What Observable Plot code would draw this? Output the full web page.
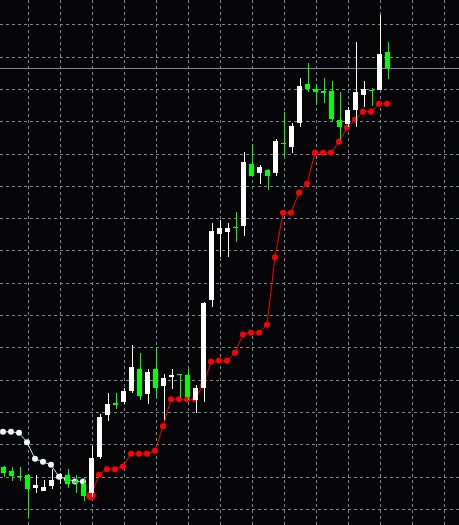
<!DOCTYPE html>
<html><head><meta charset="utf-8">
<script src="https://cdn.jsdelivr.net/npm/d3@7"></script>
<script src="https://cdn.jsdelivr.net/npm/@observablehq/plot@0.6"></script>
<style>html,body{margin:0;padding:0;background:#050508;overflow:hidden}</style>
</head><body><div id="chart"></div>
<script>
// Candles (bar index 0..48), prices in arbitrary chart units
const opens  = [113.08,111.75,110.11,110.51,106.48,105.65,107.10,109.18,110.51,108.43,107.72,104.84,116.17,129.17,132.88,133.19,136.51,143.31,135.67,143.31,138.15,140.75,141.77,141.46,133.81,137.53,164.67,185.19,185.81,187.26,187.67,206.76,204.07,204.90,204.13,213.26,212.12,219.30,231.52,229.97,229.14,229.36,220.38,219.14,223.47,228.21,229.57,229.66,241.43];
const highs  = [113.39,113.08,112.98,110.66,110.42,108.87,112.36,111.22,112.36,110.51,109.89,119.58,129.39,135.79,135.79,137.34,150.74,148.36,143.31,149.72,141.77,143.31,141.86,143.31,138.36,163.90,188.59,189.43,188.50,191.91,210.38,212.86,206.45,205.06,214.50,222.95,219.54,233.38,238.02,231.52,233.38,232.45,229.05,224.40,244.52,232.45,230.13,252.88,244.52];
const lows   = [109.89,108.74,108.65,97.60,104.94,105.40,106.17,107.72,106.39,104.94,102.55,103.70,115.37,127.31,130.93,132.48,135.79,133.72,132.48,134.43,127.38,137.12,134.25,133.72,129.79,133.19,162.60,177.89,178.07,182.71,184.57,203.05,200.66,198.81,203.14,209.02,210.26,218.31,229.14,225.12,225.73,220.16,214.19,218.06,218.31,224.40,224.71,229.51,233.16];
const closes = [111.22,110.29,109.89,106.17,107.41,106.70,108.96,110.82,107.63,108.25,104.10,115.77,128.55,132.48,132.27,136.51,144.03,135.05,142.39,137.53,140.44,141.46,141.55,134.74,137.43,163.74,186.12,186.95,186.95,187.05,207.38,203.14,205.83,203.14,213.79,213.04,218.52,230.90,230.07,229.14,228.95,220.84,218.31,223.47,229.05,229.97,229.42,240.81,236.57];

// Trailing-stop / SAR indicator
const sarDownStart = 0;   // white dots above price
const sarDown = [124.03,124.03,123.72,120.81,115.68,114.75,113.82,110.11,109.42,108.65,108.65];
const sarUpStart = 11;    // red dots below price
const sarUp = [104.32,110.72,112.46,112.46,113.29,117.22,117.22,117.22,118.15,125.77,134.12,134.12,134.12,134.12,138.36,145.70,146.01,146.01,148.48,154.15,154.67,154.67,157.15,178.07,191.81,191.81,198.00,200.79,210.38,210.38,210.38,213.79,218.21,220.60,223.07,223.07,225.55,225.55];

// Grid positions
const gridPrices = [100,110,120,130,140,150,160,170,180,190,200,210,220,230,240,250];
const gridBars = [3,7,11,15,19,23,27,31,35,39,43,47,51,55];

const W = 459, H = 525;
const BULL = "#ffffff", BEAR = "#00ff00", GRID = "#778899";

const candles = opens.map((o, i) => {
  const c = closes[i];
  const m = (o + c) / 2, half = Math.max(Math.abs(o - c), 0.32) / 2;
  return {i, o, h: highs[i], l: lows[i], c, up: c > o, b1: m - half, b2: m + half};
});
const down = sarDown.map((v, j) => ({i: sarDownStart + j, v}));
const up = sarUp.map((v, j) => ({i: sarUpStart + j, v}));
const lastClose = closes[closes.length - 1];

const plot = Plot.plot({
  width: W, height: H,
  marginTop: 0, marginRight: 0, marginBottom: 0, marginLeft: 0,
  style: {background: "#050508", overflow: "hidden"},
  x: {type: "linear", domain: [-3.5 / 8, (W - 3.5) / 8], range: [0, W], axis: null},
  y: {type: "linear", domain: [95.03, 257.52], range: [H, 0], axis: null},
  marks: [
    Plot.ruleX(gridBars, {x: d => d, stroke: GRID, strokeWidth: 1, strokeDasharray: "3,3", shapeRendering: "crispEdges"}),
    Plot.ruleY(gridPrices, {y: d => d, stroke: GRID, strokeWidth: 1, strokeDasharray: "3,3", shapeRendering: "crispEdges"}),
    Plot.ruleY([lastClose], {y: d => d, stroke: GRID, strokeWidth: 1, shapeRendering: "crispEdges"}),
    Plot.line(down, {x: "i", y: "v", stroke: "#f0f8ff", strokeWidth: 1, strokeDasharray: "1,1", dx: -1}),
    Plot.line(up, {x: "i", y: "v", stroke: "#ff0000", strokeWidth: 1, dx: -1}),
    Plot.dot(down, {x: "i", y: "v", r: 3, fill: "#f0f8ff", stroke: "none", dx: -1}),
    Plot.dot(up, {x: "i", y: "v", r: 3, fill: "#ff0000", stroke: "none", dx: -1}),
    Plot.dot(up, {filter: d => d.i === sarUpStart, x: "i", y: "v", r: 4.8, fill: "#ff0000", stroke: "none", dx: -1}),
    Plot.ruleX(candles, {x: "i", y1: "l", y2: "h", stroke: d => d.up ? BULL : BEAR, strokeWidth: 1, shapeRendering: "crispEdges"}),
    Plot.rect(candles, {x1: d => d.i - 0.3125, x2: d => d.i + 0.3125, y1: "b1", y2: "b2", fill: d => d.up ? BULL : BEAR, shapeRendering: "crispEdges"})
  ]
});
document.getElementById("chart").appendChild(plot);
</script>
</body></html>
